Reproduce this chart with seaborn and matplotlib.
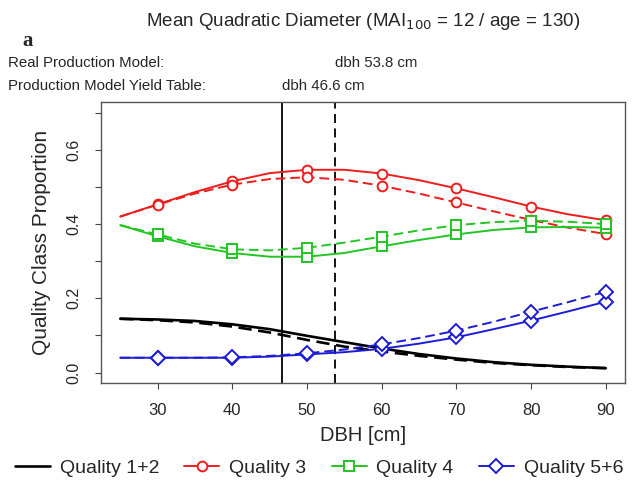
import numpy as np
import pandas as pd
import matplotlib
matplotlib.use("Agg")
import matplotlib.pyplot as plt
from matplotlib.lines import Line2D
import seaborn as sns

# ── data ──
dbh = [25, 30, 35, 40, 45, 50, 55, 60, 65, 70, 75, 80, 85, 90]

q12_real  = [0.145, 0.143, 0.139, 0.130, 0.117, 0.099, 0.082, 0.065, 0.050, 0.038, 0.028, 0.021, 0.016, 0.012]
q12_yield = [0.145, 0.141, 0.135, 0.124, 0.108, 0.088, 0.070, 0.057, 0.045, 0.035, 0.026, 0.020, 0.015, 0.012]
q3_real   = [0.420, 0.453, 0.486, 0.515, 0.537, 0.546, 0.546, 0.536, 0.518, 0.496, 0.472, 0.447, 0.426, 0.410]
q3_yield  = [0.420, 0.452, 0.482, 0.506, 0.521, 0.526, 0.519, 0.503, 0.482, 0.458, 0.434, 0.411, 0.390, 0.373]
q4_real   = [0.397, 0.367, 0.340, 0.322, 0.312, 0.312, 0.322, 0.340, 0.357, 0.372, 0.384, 0.391, 0.392, 0.390]
q4_yield  = [0.397, 0.372, 0.347, 0.332, 0.329, 0.336, 0.350, 0.366, 0.383, 0.397, 0.405, 0.409, 0.406, 0.400]
q56_real  = [0.040, 0.040, 0.040, 0.040, 0.043, 0.049, 0.055, 0.064, 0.078, 0.095, 0.117, 0.140, 0.165, 0.191]
q56_yield = [0.040, 0.040, 0.040, 0.041, 0.045, 0.052, 0.062, 0.076, 0.093, 0.113, 0.137, 0.164, 0.190, 0.218]

qualities = ["Quality 1+2", "Quality 3", "Quality 4", "Quality 5+6"]
colors = ["black", "#ee1c1c", "#22c522", "#1c1cd6"]
markers = [None, "o", "s", "D"]
dbh_real, dbh_yield = 53.8, 46.6

series = {
    "Quality 1+2": (q12_real, q12_yield),
    "Quality 3": (q3_real, q3_yield),
    "Quality 4": (q4_real, q4_yield),
    "Quality 5+6": (q56_real, q56_yield),
}
rows = []
for q, (real, yld) in series.items():
    for d, r, y in zip(dbh, real, yld):
        rows.append((q, "Real", d, r))
        rows.append((q, "Yield", d, y))
df = pd.DataFrame(rows, columns=["quality", "model", "dbh", "prop"])

# ── plot ──
sns.set_style("white")
plt.rcParams["font.family"] = ["Liberation Sans", "DejaVu Sans"]

fig = plt.figure(figsize=(6.38, 4.82), dpi=100)
ax = fig.add_axes([0.158, 0.2054, 0.822, 0.5826])

ax.axvline(dbh_yield, color="black", lw=1.3, zorder=1)
ax.axvline(dbh_real, color="black", lw=1.3, dashes=(5, 3), zorder=1)

for q, c, m in zip(qualities, colors, markers):
    sub = df[df.quality == q]
    kw = dict(lw=1.9 if m is None else 1.4)
    if m is not None:
        kw.update(marker=m, markevery=slice(1, None, 2), mfc="white", mec=c,
                  mew=1.4, markersize=7 if m != "D" else 7.5)
    sns.lineplot(data=sub, x="dbh", y="prop", style="model",
                 dashes={"Real": "", "Yield": (5, 2.5)}, color=c,
                 legend=False, ax=ax, **kw)

ax.set_xlim(22.4, 92.6)
ax.set_ylim(-0.028, 0.728)
ax.set_xticks([30, 40, 50, 60, 70, 80, 90])
ax.set_yticks(np.arange(0, 0.71, 0.1))
ax.set_yticklabels(["0.0", "", "0.2", "", "0.4", "", "0.6", ""], rotation=90, va="center")
ax.tick_params(axis="x", labelsize=12, length=4.5, direction="out", color="#444", pad=10)
ax.tick_params(axis="y", labelsize=11.5, length=4.5, direction="out", color="#444", pad=9.5)
ax.tick_params(bottom=True, left=True)
for s in ax.spines.values():
    s.set_color("#555")
    s.set_linewidth(1.0)
ax.set_xlabel("DBH [cm]", fontsize=14.5, labelpad=6)
ax.set_ylabel("Quality Class Proportion", fontsize=15, labelpad=11)

# header texts
fig.text(0.035, 0.905, "a", family="Liberation Serif", weight="bold", fontsize=15)
fig.text(0.569, 0.955, "Mean Quadratic Diameter (MAI$_{100}$ = 12 / age = 130)",
         ha="center", va="center", fontsize=13.5)
fig.text(0.012, 0.869, "Real Production Model:", va="center", fontsize=10.8)
fig.text(0.012, 0.822, "Production Model Yield Table:", va="center", fontsize=10.8)
tr = matplotlib.transforms.blended_transform_factory(ax.transData, fig.transFigure)
ax.text(dbh_real, 0.869, "dbh 53.8 cm", transform=tr, va="center", fontsize=10.8)
ax.text(dbh_yield, 0.822, "dbh 46.6 cm", transform=tr, va="center", fontsize=10.8)

handles = [Line2D([], [], color=c, lw=1.9 if m is None else 1.4, marker=m,
                  mfc="white", mec=c, mew=1.4, markersize=7)
           for c, m in zip(colors, markers)]
fig.legend(handles, qualities, loc="lower center", ncol=4, frameon=False,
           fontsize=14, bbox_to_anchor=(0.5, -0.025), handlelength=1.8,
           handletextpad=0.5, columnspacing=1.3)

plt.savefig("out.png", dpi=100)
